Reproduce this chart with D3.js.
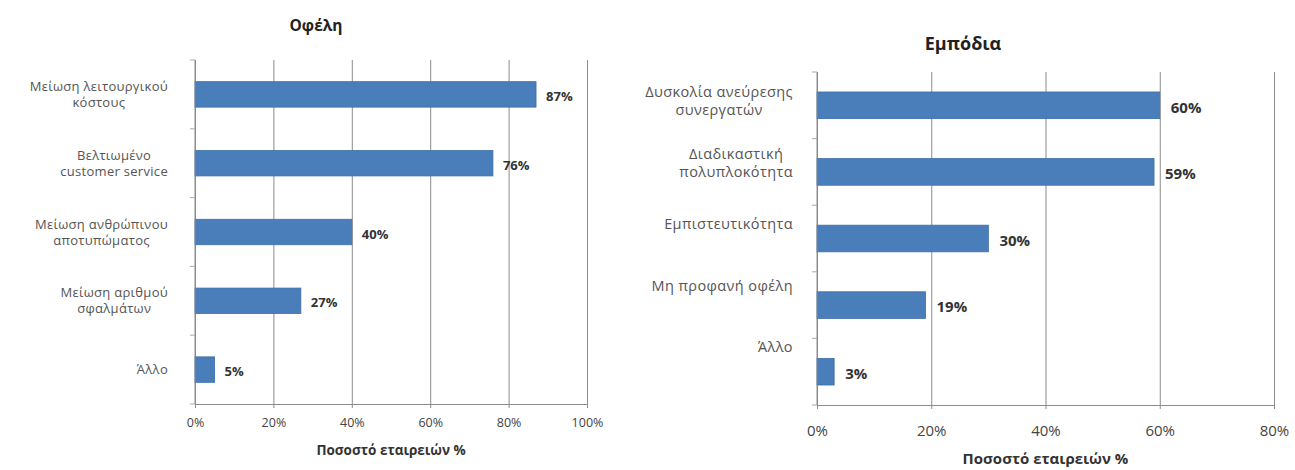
<!DOCTYPE html>
<html>
<head>
<meta charset="utf-8">
<script src="https://d3js.org/d3.v7.min.js"></script>
<style>
  body { margin: 0; background: #fff; }
  svg { font-family: "Open Sans", "Noto Sans", sans-serif; }
</style>
</head>
<body>
<svg id="chart" width="1295" height="470"></svg>
<script>
// data
var benefitTitle = "Οφέλη";
var benefitCats = ["Μείωση λειτουργικού\nκόστους", "Βελτιωμένο\ncustomer service", "Μείωση ανθρώπινου\nαποτυπώματος", "Μείωση αριθμού\nσφαλμάτων", "Άλλο"];
var benefitVals = [87, 76, 40, 27, 5];
var benefitTicks = [0, 20, 40, 60, 80, 100];

var barrierTitle = "Εμπόδια";
var barrierCats = ["Δυσκολία ανεύρεσης\nσυνεργατών", "Διαδικαστική\nπολυπλοκότητα", "Εμπιστευτικότητα", "Μη προφανή οφέλη", "Άλλο"];
var barrierVals = [60, 59, 30, 19, 3];
var barrierTicks = [0, 20, 40, 60, 80];

var axisTitle = "Ποσοστό εταιρειών %";

var svg = d3.select('#chart');

function drawChart(opt) {
    var g = svg.append('g');
    var x = d3.scaleLinear()
        .domain([0, d3.max(opt.ticks)])
        .range([opt.left, opt.right]);
    var y = d3.scaleBand()
        .domain(opt.cats)
        .range([opt.top, opt.bottom])
        .paddingInner(opt.pad)
        .paddingOuter(opt.pad / 2);

    // gridlines
    g.append('g')
        .attr('transform', 'translate(0,' + opt.bottom + ')')
        .call(d3.axisBottom(x).tickValues(opt.ticks).tickSize(-(opt.bottom - opt.top)).tickFormat(''))
        .call(function(a) {
            a.select('.domain').remove();
            a.selectAll('line').attr('stroke', '#8c8c8c').attr('stroke-width', 1);
        });

    // bars
    g.selectAll('rect.bar')
        .data(opt.vals)
        .enter()
        .append('rect')
        .attr('class', 'bar')
        .attr('x', x(0))
        .attr('y', function(d, i) { return y(opt.cats[i]); })
        .attr('width', function(d) { return x(d) - x(0); })
        .attr('height', y.bandwidth())
        .attr('fill', '#4a7ebb')
        .attr('stroke', '#3d6ea8')
        .attr('stroke-width', 0.8);

    // value labels
    g.selectAll('text.val')
        .data(opt.vals)
        .enter()
        .append('text')
        .attr('class', 'val')
        .attr('x', function(d) { return x(d) + opt.valGap; })
        .attr('y', function(d, i) { return y(opt.cats[i]) + y.bandwidth() / 2 + 2; })
        .attr('dy', '0.35em')
        .attr('font-size', opt.valSize)
        .attr('font-weight', 'bold')
        .attr('fill', '#333')
        .text(function(d) { return d + '%'; });

    // x axis
    g.append('g')
        .attr('transform', 'translate(0,' + opt.bottom + ')')
        .call(d3.axisBottom(x).tickValues(opt.ticks).tickSize(4).tickPadding(opt.tickPad).tickFormat(function(d) { return d + '%'; }))
        .call(function(a) {
            a.select('.domain').attr('stroke', '#8c8c8c');
            a.selectAll('line').attr('stroke', '#8c8c8c');
            a.selectAll('text').attr('font-size', opt.tickSize).attr('fill', '#444')
                .attr('font-family', '"Open Sans", sans-serif');
        });

    // y axis line + boundary ticks
    var step = y.step();
    var bounds = d3.range(opt.cats.length + 1).map(function(i) { return y.range()[0] + i * step; });
    g.append('line')
        .attr('x1', x(0)).attr('x2', x(0))
        .attr('y1', opt.top).attr('y2', opt.bottom)
        .attr('stroke', '#8c8c8c');
    g.selectAll('line.ytick')
        .data(bounds)
        .enter()
        .append('line')
        .attr('class', 'ytick')
        .attr('x1', x(0) - 5).attr('x2', x(0))
        .attr('y1', function(d) { return d; })
        .attr('y2', function(d) { return d; })
        .attr('stroke', '#aaa');

    // category labels (block right aligned, lines centred)
    var labelY = opt.labelY || function(c) { return y(c) + y.bandwidth() / 2; };
    opt.cats.forEach(function(c) {
        var lines = c.split('\n');
        var t = g.append('text')
            .attr('font-size', opt.labelSize)
            .attr('letter-spacing', opt.labelSpacing)
            .attr('fill', '#555')
            .attr('text-anchor', 'middle');
        var spans = lines.map(function(l, i) {
            return t.append('tspan')
                .attr('y', labelY(c) + (i - (lines.length - 1) / 2) * opt.lineH)
                .attr('dy', '0.35em')
                .text(l);
        });
        var w = d3.max(spans, function(s) { return s.node().getComputedTextLength(); });
        spans.forEach(function(s) { s.attr('x', opt.labelRight - w / 2); });
    });

    // chart title
    g.append('text')
        .attr('x', opt.titleX)
        .attr('y', opt.titleY)
        .attr('dy', '0.35em')
        .attr('text-anchor', 'middle')
        .attr('font-size', opt.titleSize)
        .attr('font-weight', 'bold')
        .attr('fill', '#222')
        .text(opt.title);

    // axis title
    g.append('text')
        .attr('x', (opt.left + opt.right) / 2)
        .attr('y', opt.axisTitleY)
        .attr('dy', '0.35em')
        .attr('text-anchor', 'middle')
        .attr('font-size', opt.axisTitleSize)
        .attr('font-weight', 'bold')
        .attr('fill', '#333')
        .text(axisTitle);
}

drawChart({
    title: benefitTitle, cats: benefitCats, vals: benefitVals, ticks: benefitTicks,
    left: 195, right: 587, top: 60, bottom: 404, pad: 0.63,
    valGap: 10, valSize: 13, tickSize: 12.5, tickPad: 10,
    labelSize: 13, labelSpacing: 0.3, lineH: 16, labelRight: 168,
    titleX: 316, titleY: 26, titleSize: 15.5,
    axisTitleY: 450, axisTitleSize: 13.5
});

var bTop = 72, bBottom = 405;
var barrierLabelY = d3.scalePoint()
    .domain(barrierCats)
    .range([bTop + 29, bBottom - 58]);

drawChart({
    title: barrierTitle, cats: barrierCats, vals: barrierVals, ticks: barrierTicks,
    left: 817, right: 1274, top: bTop, bottom: bBottom, pad: 0.6,
    valGap: 11, valSize: 15, tickSize: 15, tickPad: 16,
    labelSize: 14.5, labelSpacing: 0.4, lineH: 18, labelRight: 793, labelY: barrierLabelY,
    titleX: 963, titleY: 44, titleSize: 18,
    axisTitleY: 459, axisTitleSize: 15
});
</script>
</body>
</html>
